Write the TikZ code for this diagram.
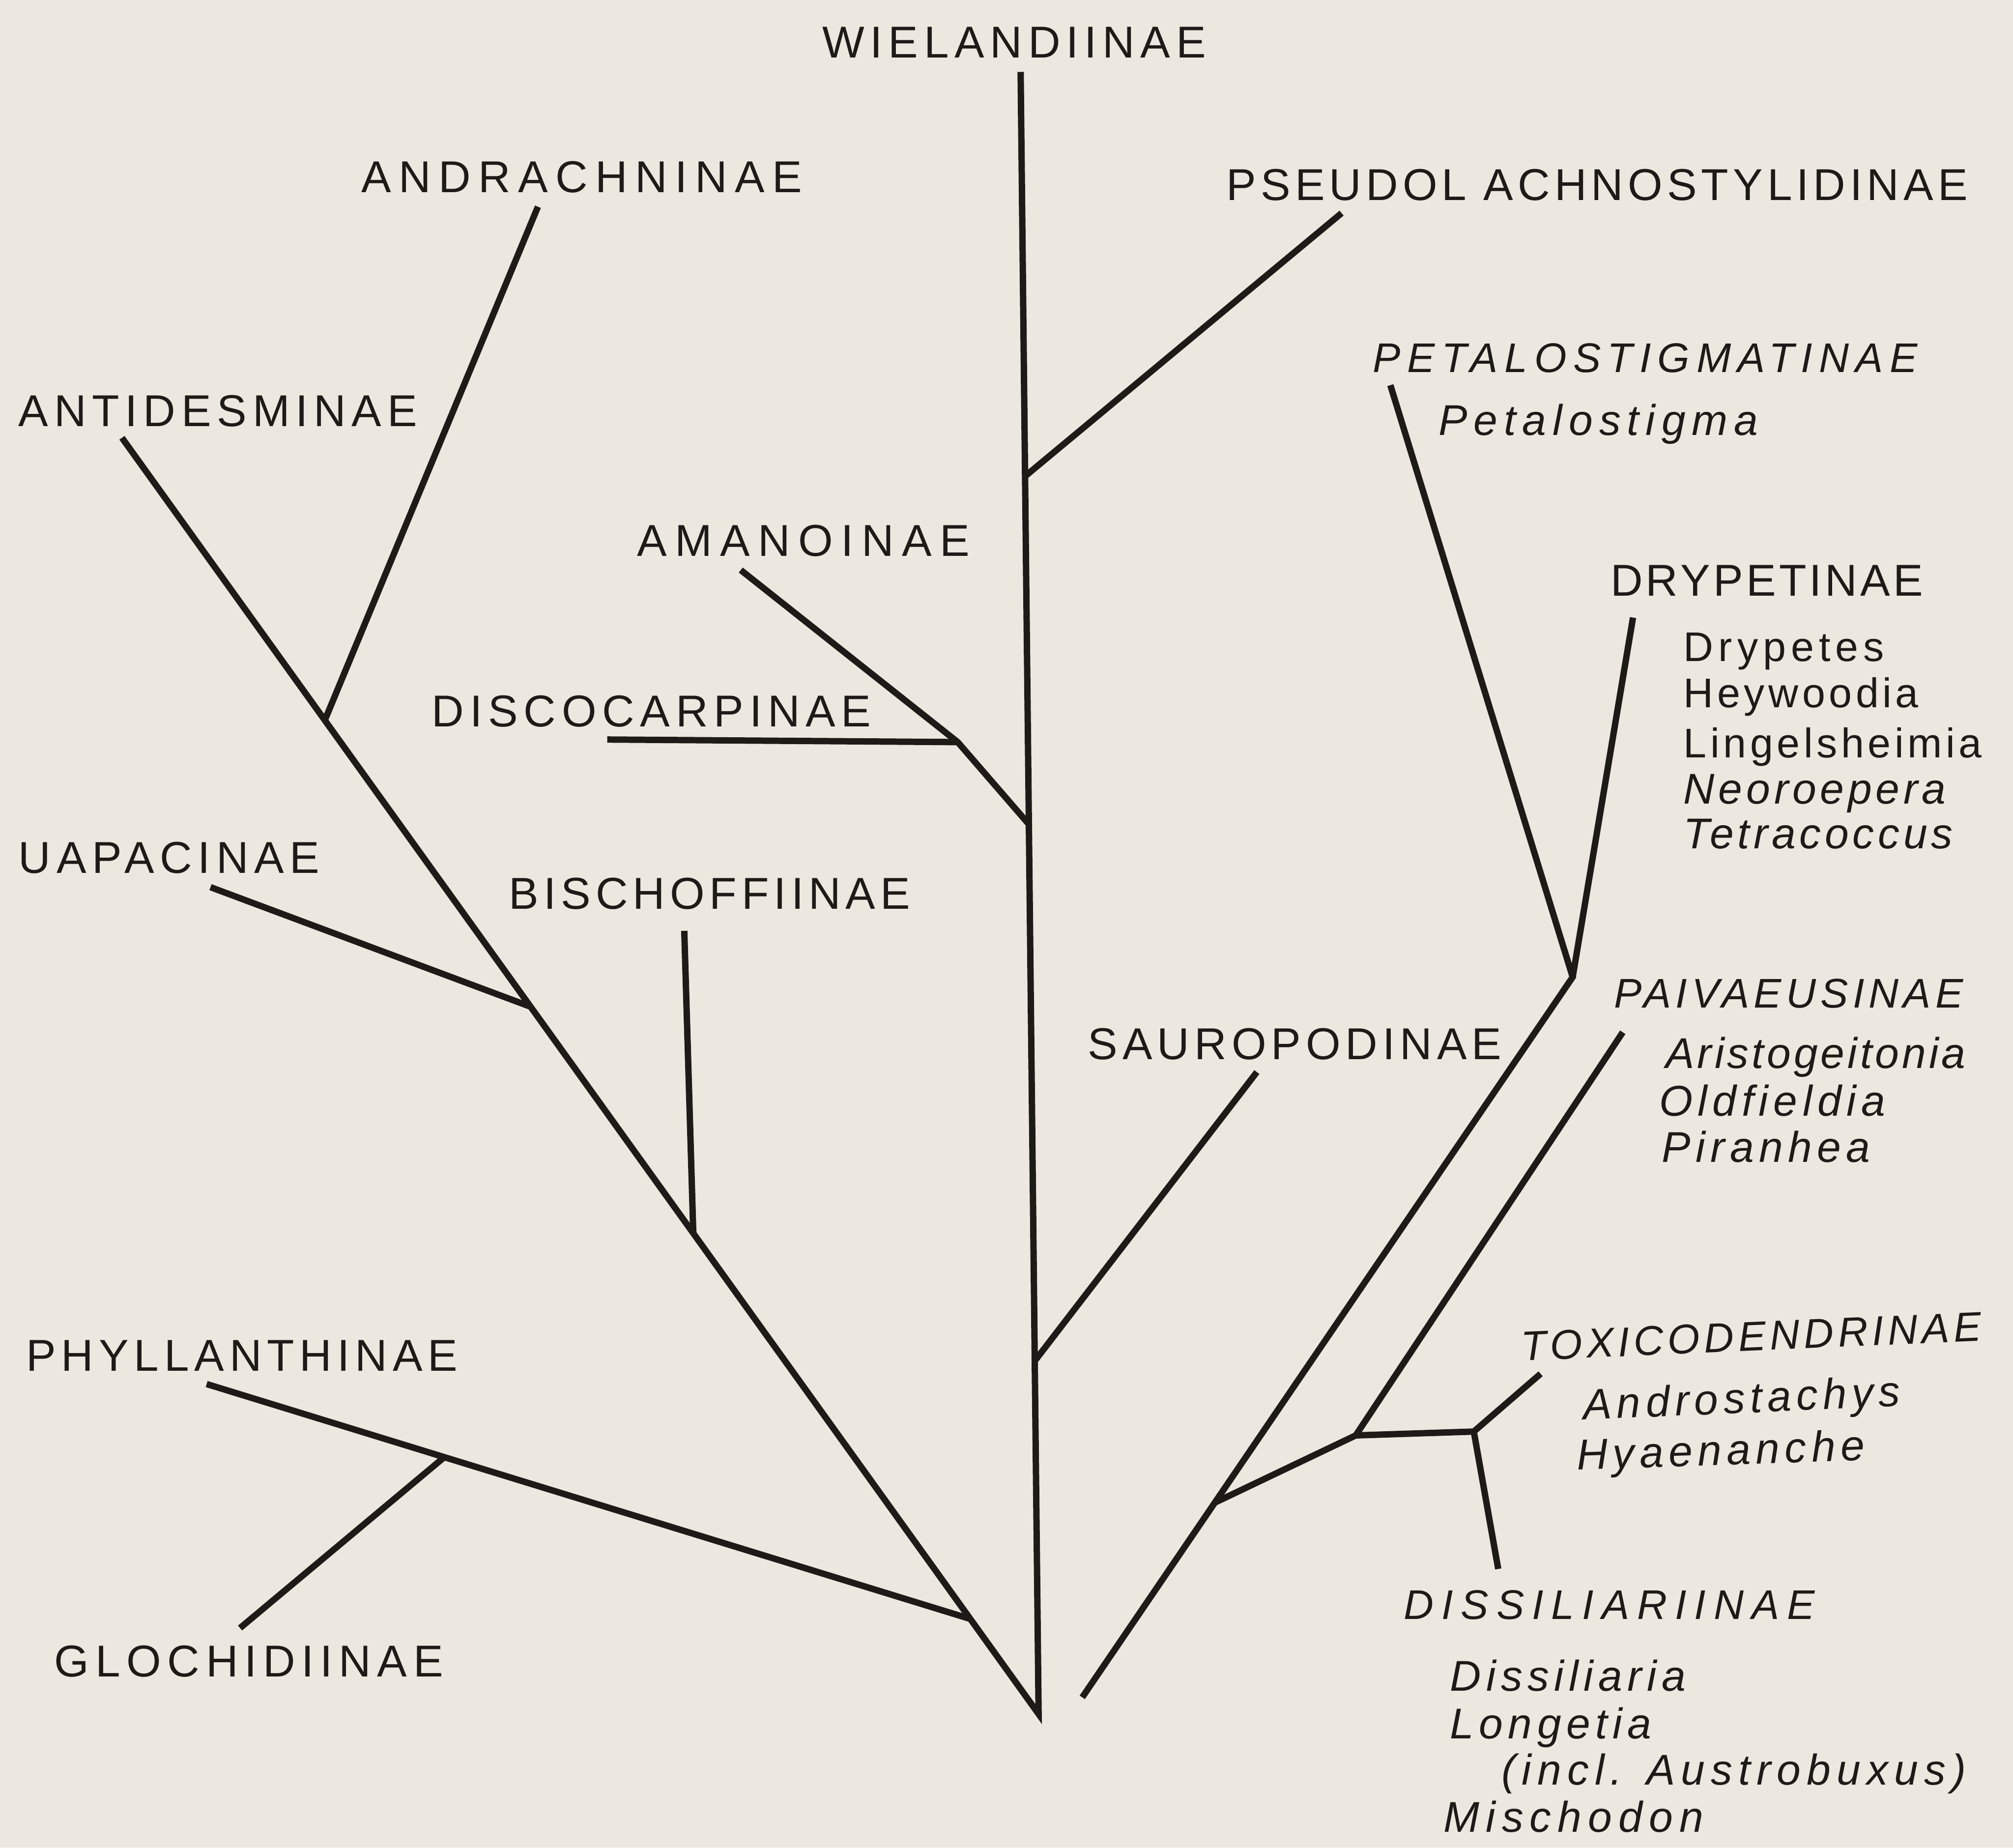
\documentclass[tikz,border=0pt]{standalone}
\usepackage{fontspec}
\setmainfont{Liberation Sans}
\usepackage{tikz}
\usetikzlibrary{positioning}
\definecolor{paper}{HTML}{ECE8DF}
\definecolor{ink}{HTML}{1E1A18}
\newcommand{\capfont}[1][13]{\fontsize{28}{32}\selectfont\addfontfeature{LetterSpace=#1}}
\newcommand{\itcapfont}[1][13]{\fontsize{26}{30}\selectfont\itshape\addfontfeature{LetterSpace=#1}}
\newcommand{\genfont}[1][9]{\fontsize{26}{30}\selectfont\addfontfeature{LetterSpace=#1}}
\newcommand{\itgenfont}[1][12]{\fontsize{27}{30}\selectfont\itshape\addfontfeature{LetterSpace=#1}}
\tikzset{every picture/.style={line width=4pt},
  taxon/.style={inner sep=0pt, anchor=base west, text=ink, font=\capfont},
  ittaxon/.style={taxon, font=\itcapfont},
  genus/.style={inner sep=0pt, anchor=base west, text=ink, font=\genfont},
  itgenus/.style={genus, font=\itgenfont},
  branch/.style={draw=ink, line width=4pt}}

\begin{document}
\begin{tikzpicture}[x=0.28304mm, y=-0.28304mm]
\fill[paper] (0,0) rectangle (1568,1439);
\useasboundingbox (0,0) rectangle (1568,1439);
% subtribe names
\node[taxon] (wiel) at (638,45) {WIELANDIINAE};
\node[taxon, font={\capfont[17]}] (andr) at (279,150) {ANDRACHNINAE};
\node[taxon, font={\capfont[10]}] (pseu) at (953,156) {PSEUDOL ACHNOSTYLIDINAE};
\node[taxon] (anti) at (12,332) {ANTIDESMINAE};
\node[taxon, font={\capfont[18]}] (amano) at (494,433) {AMANOINAE};
\node[taxon] (disc) at (334,566) {DISCOCARPINAE};
\node[taxon] (uapa) at (12,680) {UAPACINAE};
\node[taxon, font={\capfont[11]}] (bisc) at (394,708) {BISCHOFFIINAE};
\node[taxon, font={\capfont[11]}] (sauro) at (845,825) {SAUROPODINAE};
\node[taxon, font={\capfont[12]}] (phyl) at (18,1068) {PHYLLANTHINAE};
\node[taxon, font={\capfont[14]}] (gloc) at (40,1306) {GLOCHIDIINAE};
\node[taxon, font={\capfont[7]}] (dryp) at (1252,464) {DRYPETINAE};
\node[ittaxon, font={\itcapfont[16]}] (petal) at (1067,290) {PETALOSTIGMATINAE};
\node[ittaxon, font={\itcapfont[11]}] (paiv) at (1255,785) {PAIVAEUSINAE};
\node[ittaxon, font={\itcapfont[10]}, rotate=2.5] (toxi) at (1183,1060) {TOXICODENDRINAE};
\node[ittaxon, font={\itcapfont[19]}] (diss) at (1091,1261) {DISSILIARIINAE};
%
% genera
\node[itgenus, font={\itgenfont[15]}] (petg) at (1118,339) {Petalostigma};
\node[genus, font={\genfont[12]}] (dryg) at (1309,515) {Drypetes};
\node[genus] (heyw) at (1309,551) {Heywoodia};
\node[genus] (ling) at (1309,590) {Lingelsheimia};
\node[itgenus, font={\itgenfont[9]}] (neor) at (1309,626) {Neoroepera};
\node[itgenus, font={\itgenfont[9]}] (tetr) at (1309,661) {Tetracoccus};
\node[itgenus, font={\itgenfont[7]}] (aris) at (1295,832) {Aristogeitonia};
\node[itgenus] (oldf) at (1290,869) {Oldfieldia};
\node[itgenus] (pira) at (1292,905) {Piranhea};
\node[itgenus, rotate=2.5] (andg) at (1231,1106) {Androstachys};
\node[itgenus, rotate=2] (hyae) at (1226,1145) {Hyaenanche};
\node[itgenus] (dssg) at (1127,1317) {Dissiliaria};
\node[itgenus] (long) at (1127,1354) {Longetia};
\node[itgenus, font={\itgenfont[14]}] (incl) at (1167,1390) {(incl. Austrobuxus)};
\node[itgenus, font={\itgenfont[15]}] (misc) at (1122,1427) {Mischodon};
%
% branch points and tips
\coordinate (root) at (809,1335);
\coordinate (wtip) at (795,56);
\coordinate (atip) at (95,341);
\coordinate (ja) at (253,561);
\coordinate (antip) at (419,161);
\coordinate (ju) at (413,784);
\coordinate (utip) at (164,691);
\coordinate (jb) at (540,960);
\coordinate (btip) at (533,725);
\coordinate (jp) at (756,1261);
\coordinate (ptip) at (161,1078);
\coordinate (jg) at (346,1135);
\coordinate (gtip) at (187,1268);
\coordinate (jps) at (798.4,371);
\coordinate (pstip) at (1045,166);
\coordinate (jam) at (801.4,642);
\coordinate (jd) at (746,578);
\coordinate (amtip) at (577,444);
\coordinate (dtip) at (473,576);
\coordinate (js) at (806,1060);
\coordinate (stip) at (979,835);
\coordinate (rroot) at (843,1322);
\coordinate (jpe) at (1225,761);
\coordinate (petip) at (1083,300);
\coordinate (drtip) at (1272,481);
\coordinate (jl) at (947,1170);
\coordinate (jm) at (1056,1118);
\coordinate (patip) at (1264,804);
\coordinate (jt) at (1148,1115);
\coordinate (ttip) at (1200,1070);
\coordinate (ditip) at (1167,1222);
%
\draw[branch] (wtip) -- (root) -- (atip);
\draw[branch] (ja) -- (antip);
\draw[branch] (ju) -- (utip);
\draw[branch] (jb) -- (btip);
\draw[branch] (jp) -- (ptip);
\draw[branch] (jg) -- (gtip);
\draw[branch] (jps) -- (pstip);
\draw[branch] (jam) -- (jd) -- (amtip);
\draw[branch] (jd) -- (dtip);
\draw[branch] (js) -- (stip);
\draw[branch] (rroot) -- (jpe) -- (petip);
\draw[branch] (jpe) -- (drtip);
\draw[branch] (jl) -- (jm) -- (patip);
\draw[branch] (jm) -- (jt) -- (ttip);
\draw[branch] (jt) -- (ditip);
\end{tikzpicture}
\end{document}
